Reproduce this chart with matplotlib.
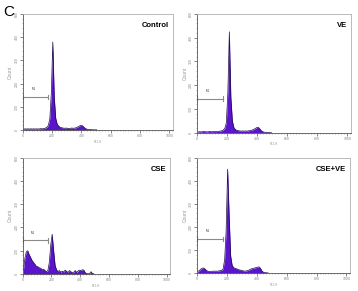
import numpy as np
import matplotlib
matplotlib.use('Agg')
import matplotlib.pyplot as plt
from matplotlib.ticker import MultipleLocator

plt.rcParams['font.family'] = ['Liberation Sans', 'DejaVu Sans']

# histogram counts per 10-channel bin (channels 0..1024)
bin_width = 10
titles = ['Control', 'VE', 'CSE', 'CSE+VE']

control = [4, 6, 5, 6, 5, 6, 5, 6, 5, 6, 5, 6, 7, 6, 8, 10, 14, 24, 60, 190,
           455, 170, 60, 30, 20, 14, 12, 10, 9, 10, 9, 8, 9, 10, 9, 10, 12, 16,
           20, 24, 23, 16, 9, 5, 3, 2, 2, 1, 1, 1, 1]
ve = [3, 5, 4, 5, 6, 5, 4, 5, 6, 5, 5, 6, 5, 6, 7, 8, 10, 14, 22, 50,
      200, 510, 180, 60, 26, 16, 12, 10, 9, 8, 9, 8, 9, 8, 10, 11, 13, 16,
      20, 25, 28, 22, 12, 6, 3, 2, 2, 1, 1, 1]
cse = [20, 80, 115, 120, 100, 85, 70, 60, 50, 40, 38, 32, 30, 22, 25, 18,
       12, 18, 60, 150, 205, 120, 45, 22, 12, 18, 8, 15, 10, 20, 14, 8, 18,
       12, 6, 10, 18, 8, 16, 20, 18, 22, 20, 6, 2, 1, 2, 12, 2, 1]
cse_ve = [8, 12, 20, 25, 26, 20, 12, 9, 8, 8, 10, 9, 10, 9, 11, 12, 14, 22,
          70, 220, 540, 300, 90, 40, 28, 24, 22, 18, 16, 14, 12, 10, 10, 12,
          14, 18, 22, 24, 26, 28, 30, 32, 24, 10, 4, 2, 1, 1]
series = [control, ve, cse, cse_ve]

marker_levels = [170, 172, 173, 176]
marker_ends = [175, 173, 175, 173]

# axes boxes in figure pixels: left, top, right, bottom
boxes = [(22.7, 14, 173, 130), (197, 14, 351, 132.7),
         (22.7, 157.7, 170, 274), (197, 157.7, 350, 273)]

W, H = 358, 291
fig = plt.figure(figsize=(W / 100, H / 100), dpi=100)

fill_color = '#5a14cc'
edge_color = '#1c0a4a'

for k in range(4):
    l, t, r, b = boxes[k]
    ax = fig.add_axes([l / W, 1 - b / H, (r - l) / W, (b - t) / H])
    vals = np.array(series[k], dtype=float)
    x = np.arange(len(vals)) * bin_width + bin_width / 2
    ax.fill_between(x, vals, 0, color=fill_color, linewidth=0)
    ax.plot(x, vals, color=edge_color, linewidth=0.5)

    # M1 marker
    lvl = marker_levels[k]
    end = marker_ends[k]
    ax.plot([0, end], [lvl, lvl], color='#8a8a8a', lw=0.8)
    ax.plot([end, end], [lvl - 12, lvl + 12], color='#8a8a8a', lw=0.8)
    ax.plot([2, 2], [lvl - 12, lvl + 12], color='#8a8a8a', lw=0.8)
    ax.text(end * 0.42, lvl + 30, 'M1', fontsize=2.2, color='#333333',
            ha='center', va='bottom')

    ax.set_xlim(0, 1024)
    ax.set_ylim(0, 600)
    ax.xaxis.set_major_locator(MultipleLocator(200))
    ax.xaxis.set_minor_locator(MultipleLocator(20))
    ax.yaxis.set_major_locator(MultipleLocator(120))
    ax.yaxis.set_minor_locator(MultipleLocator(24))
    ax.tick_params(which='major', length=2, width=0.5, color='#555555',
                   labelsize=2.5, labelcolor='#888888', pad=1)
    ax.tick_params(which='minor', length=1, width=0.4, color='#777777')
    for lab in ax.get_yticklabels():
        lab.set_rotation(90)
        lab.set_va('center')
    ax.set_ylabel('Count', fontsize=3.5, color='#999999', labelpad=1)
    ax.set_xlabel('FL2-H', fontsize=2.2, color='#999999', labelpad=1)
    for side in ['top', 'right']:
        ax.spines[side].set_color('#b0b0b0')
        ax.spines[side].set_linewidth(0.6)
    for side in ['left', 'bottom']:
        ax.spines[side].set_color('#555555')
        ax.spines[side].set_linewidth(0.6)

    ax.text(0.975, 0.93, titles[k], transform=ax.transAxes, ha='right',
            va='top', fontsize=5.5, fontweight='bold', color='black')

fig.text(3 / W, 1 - 12 / H, 'C', fontsize=11, ha='left', va='center',
         color='black')

fig.savefig('out.png', dpi=100)
